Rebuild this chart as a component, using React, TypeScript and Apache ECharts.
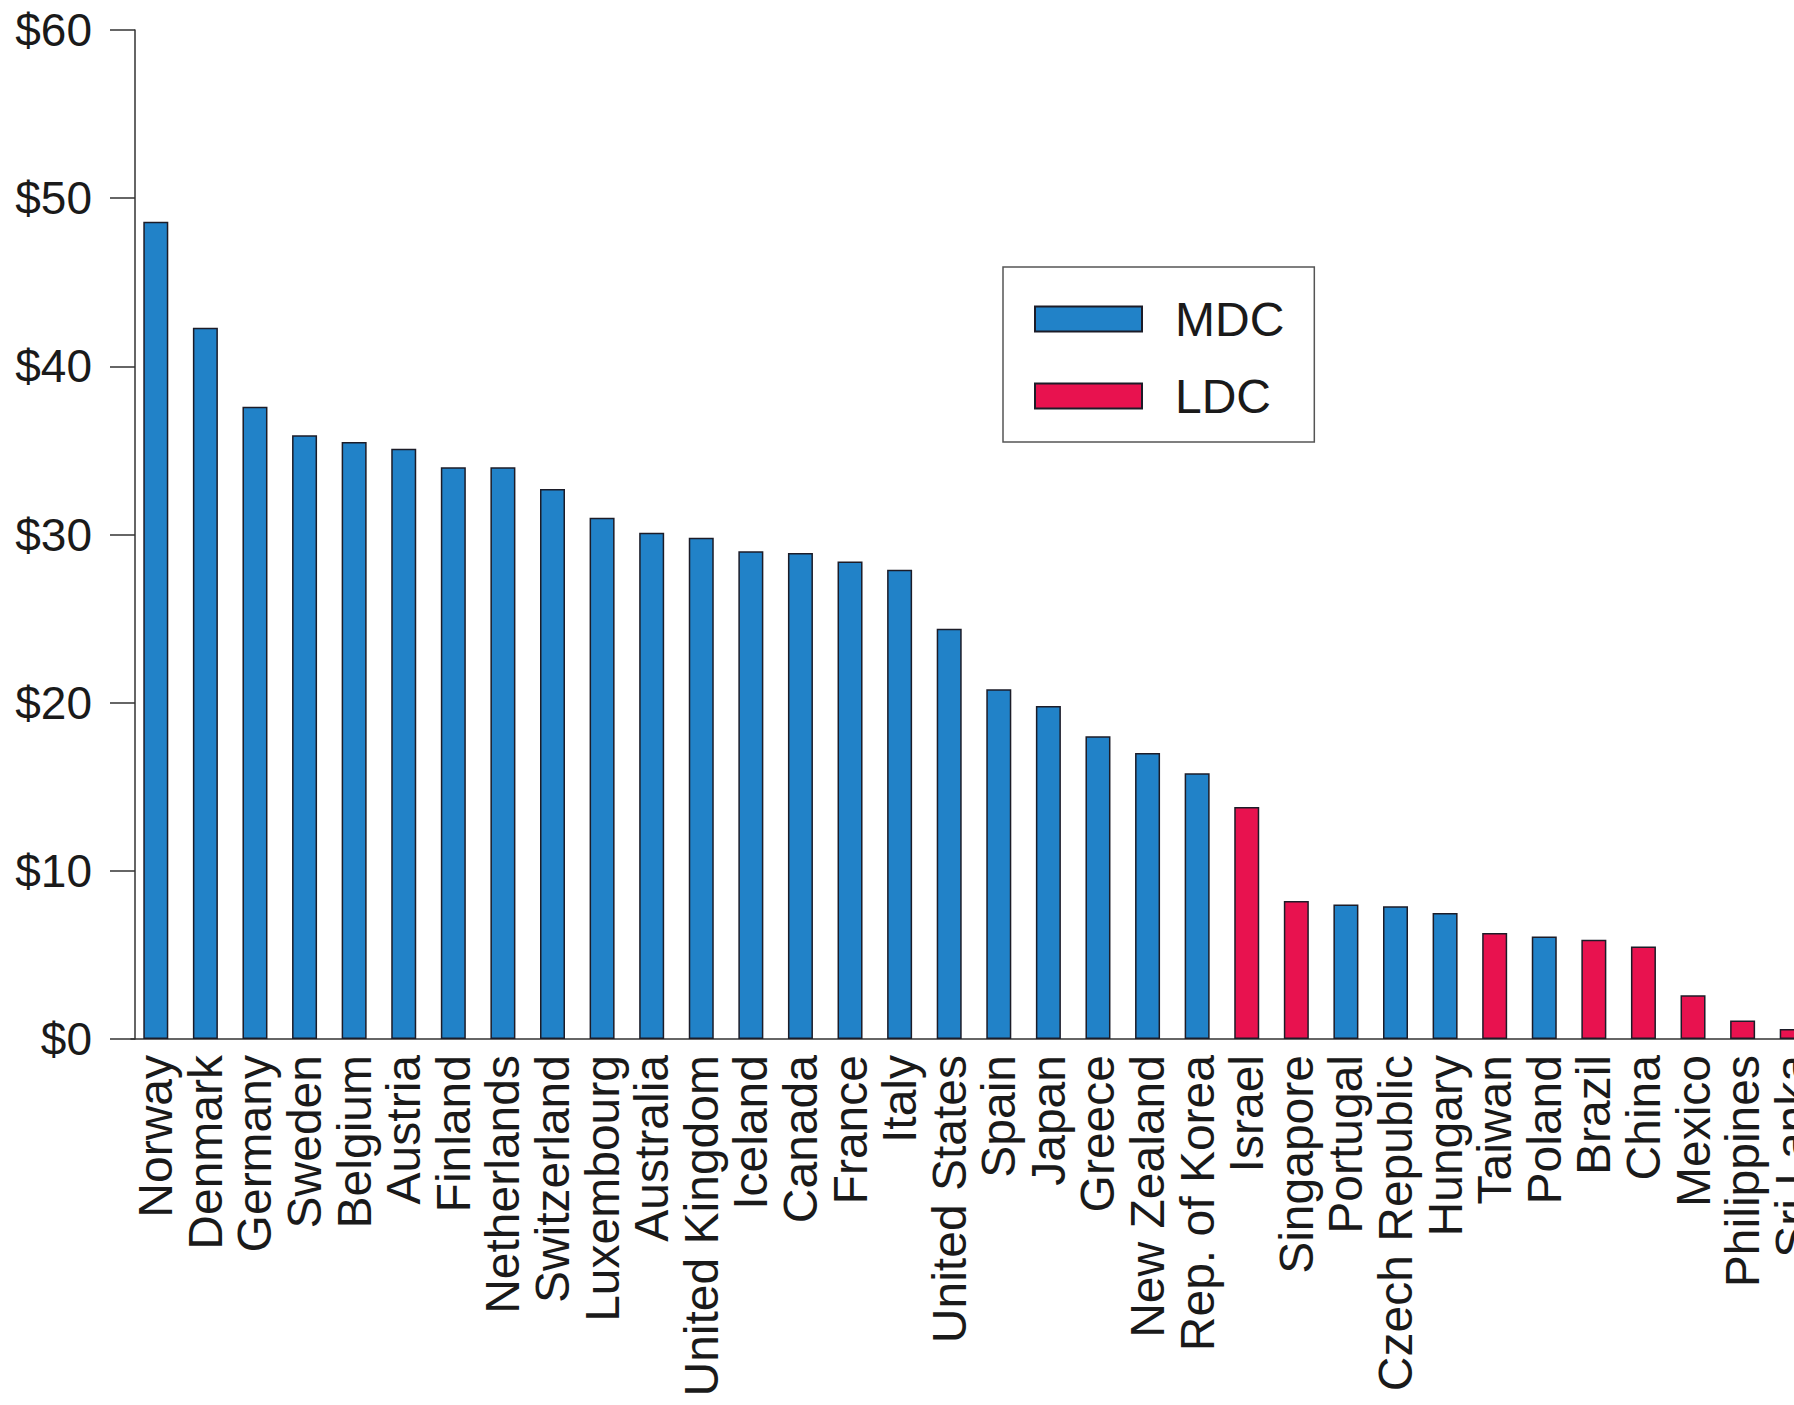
import React, { useEffect, useRef } from "react";
import * as echarts from "echarts";

const categories = [
  "Norway", "Denmark", "Germany", "Sweden", "Belgium", "Austria", "Finland",
  "Netherlands", "Switzerland", "Luxembourg", "Australia", "United Kingdom",
  "Iceland", "Canada", "France", "Italy", "United States", "Spain", "Japan",
  "Greece", "New Zealand", "Rep. of Korea", "Israel", "Singapore", "Portugal",
  "Czech Republic", "Hungary", "Taiwan", "Poland", "Brazil", "China", "Mexico",
  "Philippines", "Sri Lanka",
];

const values = [
  48.6, 42.3, 37.6, 35.9, 35.5, 35.1, 34.0, 34.0, 32.7, 31.0, 30.1, 29.8,
  29.0, 28.9, 28.4, 27.9, 24.4, 20.8, 19.8, 18.0, 17.0, 15.8, 13.8, 8.2,
  8.0, 7.9, 7.5, 6.3, 6.1, 5.9, 5.5, 2.6, 1.1, 0.6,
];

const groups = [
  "MDC", "MDC", "MDC", "MDC", "MDC", "MDC", "MDC", "MDC", "MDC", "MDC", "MDC",
  "MDC", "MDC", "MDC", "MDC", "MDC", "MDC", "MDC", "MDC", "MDC", "MDC", "MDC",
  "LDC", "LDC", "MDC", "MDC", "MDC", "LDC", "MDC", "LDC", "LDC", "LDC", "LDC",
  "LDC",
];

const seriesNames = ["MDC", "LDC"];
const yTicks = { min: 0, max: 60, interval: 10 };

const COLORS: Record<string, string> = { MDC: "#2182c8", LDC: "#e8124f" };
const FONT = "'Liberation Sans', Arial, Helvetica, sans-serif";

export default function App() {
  const ref = useRef<HTMLDivElement>(null);

  useEffect(() => {
    if (!ref.current) return;
    const chart = echarts.init(ref.current, undefined, { renderer: "svg" });
    const option = {
      animation: false,
      backgroundColor: "#ffffff",
      textStyle: { fontFamily: FONT },
      grid: { left: 131, top: 30, right: 13, bottom: 366, containLabel: false },
      legend: {
        orient: "vertical",
        left: 1003,
        top: 267,
        padding: [27, 30, 21, 31],
        itemWidth: 107,
        itemHeight: 25,
        itemGap: 27,
        icon: "rect",
        borderColor: "#555555",
        borderWidth: 1.5,
        data: seriesNames,
        textStyle: {
          fontSize: 48,
          lineHeight: 50,
          color: "#1a1a1a",
          fontFamily: FONT,
          padding: [0, 0, 0, 28],
        },
      },
      xAxis: {
        type: "category",
        data: categories,
        boundaryGap: true,
        axisLine: { show: true, lineStyle: { color: "#333333", width: 1.5 } },
        axisTick: { show: false },
        axisLabel: {
          rotate: 90,
          interval: 0,
          margin: 16,
          fontSize: 48,
          color: "#1a1a1a",
          fontFamily: FONT,
        },
        splitLine: { show: false },
      },
      yAxis: {
        type: "value",
        min: yTicks.min,
        max: yTicks.max,
        interval: yTicks.interval,
        offset: -4,
        axisLine: { show: true, lineStyle: { color: "#333333", width: 1.5 } },
        axisTick: {
          show: true,
          inside: false,
          length: 25,
          lineStyle: { color: "#333333", width: 1.5 },
        },
        axisLabel: {
          margin: 43,
          fontSize: 46,
          color: "#1a1a1a",
          fontFamily: FONT,
          formatter: (v: number) => "$" + v,
        },
        splitLine: { show: false },
      },
      series: seriesNames.map((name) => ({
        name,
        type: "bar",
        barWidth: 25,
        barGap: "-100%",
        itemStyle: {
          color: COLORS[name],
          borderColor: "#1c1c28",
          borderWidth: 1.5,
        },
        data: values.map((v, i) => (groups[i] === name ? v : null)),
      })),
    };
    chart.setOption(option);
    return () => chart.dispose();
  }, []);

  return (
    <div
      style={{
        position: "absolute",
        left: 0,
        top: 0,
        width: 1794,
        height: 1405,
        overflow: "hidden",
        background: "#ffffff",
      }}
    >
      <div ref={ref} style={{ width: 1830, height: 1405 }} />
    </div>
  );
}
